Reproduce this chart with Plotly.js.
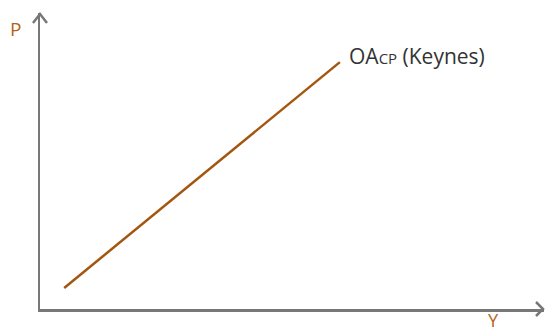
<!DOCTYPE html>
<html><head><meta charset="utf-8">
<script src="https://cdn.plot.ly/plotly-3.0.1.min.js"></script>
<style>html,body{margin:0;padding:0;background:#fff}#c{width:545px;height:333px}</style>
</head><body><div id="c"></div>
<script>
const lineX = [0.48, 5.95];
const lineY = [0.71, 8.34];
const curveLabel = 'OA<span style="font-size:15px">CP</span> (Keynes)';
const yAxisLabel = 'P';
const xAxisLabel = 'Y';

const axisColor = '#777777';
const labelColor = '#b5631a';
const lineColor = '#a3560f';

const data = [{
  x: lineX, y: lineY, mode: 'lines', type: 'scatter',
  line: {color: lineColor, width: 2.5}, hoverinfo: 'skip'
}];

const layout = {
  width: 545, height: 333,
  margin: {l: 40, r: 1, t: 13, b: 24, pad: 0},
  paper_bgcolor: '#fff', plot_bgcolor: '#fff',
  showlegend: false,
  xaxis: {range: [0, 10], showline: true, linecolor: axisColor, linewidth: 2.5,
          showgrid: false, zeroline: false, ticks: '', showticklabels: false, fixedrange: true},
  yaxis: {range: [0, 10], showline: true, linecolor: axisColor, linewidth: 2.5,
          showgrid: false, zeroline: false, ticks: '', showticklabels: false, fixedrange: true},
  shapes: [
    {type: 'path', xref: 'paper', yref: 'paper', xsizemode: 'pixel', ysizemode: 'pixel',
     xanchor: 0, yanchor: 1, path: 'M -7 -10 L 0 -1 L 7 -10',
     line: {color: axisColor, width: 2.5}},
    {type: 'path', xref: 'paper', yref: 'paper', xsizemode: 'pixel', ysizemode: 'pixel',
     xanchor: 1, yanchor: 0, path: 'M -8 7 L -1 0 L -8 -7',
     line: {color: axisColor, width: 2.5}}
  ],
  annotations: [
    {x: 6.1, y: 8.55, xref: 'x', yref: 'y', text: curveLabel, showarrow: false,
     xanchor: 'left', yanchor: 'middle',
     font: {family: 'Open Sans, sans-serif', size: 21, color: '#333333'}},
    {x: -0.0496, y: 0.946, xref: 'paper', yref: 'paper', text: yAxisLabel, showarrow: false,
     xanchor: 'center', yanchor: 'middle',
     font: {family: 'Open Sans, sans-serif', size: 19, color: labelColor}},
    {x: 0.899, y: -0.0814, xref: 'paper', yref: 'paper', text: xAxisLabel, showarrow: false,
     xanchor: 'center', yanchor: 'bottom', borderpad: 0,
     font: {family: 'Open Sans, sans-serif', size: 18, color: labelColor}}
  ]
};
Plotly.newPlot('c', data, layout, {displayModeBar: false, staticPlot: true});
</script></body></html>
